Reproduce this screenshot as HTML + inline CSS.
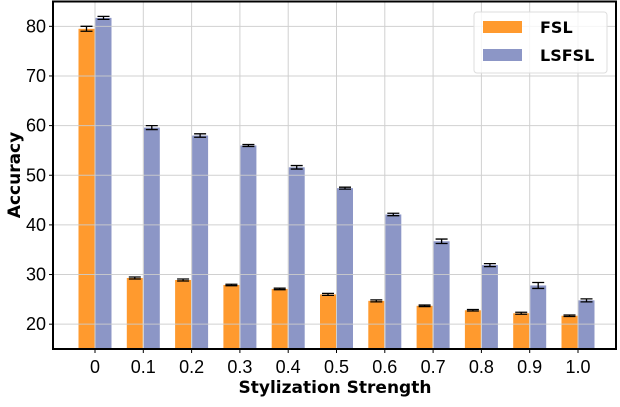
<!DOCTYPE html>
<html><head><meta charset="utf-8"><style>
body{margin:0;background:#fff;}
svg text{font-family:"DejaVu Sans","Liberation Sans",sans-serif;}
svg text.tick{font-family:"Liberation Sans",sans-serif;}
</style></head><body>
<svg id="chart" width="620" height="402" xmlns="http://www.w3.org/2000/svg">
<g id="bars"></g>
<g id="grid" opacity="0.9"></g>
<g id="axes"></g>
<g>
<rect x="474" y="12" width="133" height="61" rx="3" fill="#fff" fill-opacity="0.8" stroke="#ddd" stroke-width="1"/>
<rect x="483" y="21" width="39" height="12" fill="#ff9a2e"/>
<text x="540" y="33" font-size="16" font-weight="bold">FSL</text>
<rect x="483" y="49" width="39" height="12" fill="#8c96c6"/>
<text x="540" y="61" font-size="16" font-weight="bold">LSFSL</text>
</g>
<text x="335" y="393" font-size="17" font-weight="bold" text-anchor="middle">Stylization Strength</text>
<text transform="translate(20,175) rotate(-90)" font-size="17" font-weight="bold" text-anchor="middle">Accuracy</text>
</svg>
<script>
const categories=["0","0.1","0.2","0.3","0.4","0.5","0.6","0.7","0.8","0.9","1.0"];
const fslValues=[79.5,29.3,28.9,27.9,27.1,26.0,24.7,23.7,22.8,22.2,21.7];
const fslErrors=[0.5,0.2,0.2,0.15,0.15,0.2,0.2,0.15,0.15,0.2,0.15];
const lsfslValues=[81.7,59.6,58.0,56.0,51.6,47.4,42.1,36.7,31.9,27.8,24.8];
const lsfslErrors=[0.3,0.4,0.35,0.2,0.35,0.2,0.25,0.45,0.3,0.6,0.3];
const yTicks=[20,30,40,50,60,70,80];
const NS="http://www.w3.org/2000/svg";
const L=53,R=616,T=1.5,B=349,yMin=15,yMax=85;
const x0=95,step=48.3;
function xs(i){return x0+i*step;}
function ys(v){return B-(v-yMin)/(yMax-yMin)*(B-T);}
function mk(tag,attrs,parent){const e=document.createElementNS(NS,tag);for(const k in attrs)e.setAttribute(k,attrs[k]);parent.appendChild(e);return e;}
const grid=document.getElementById('grid'),bars=document.getElementById('bars'),axes=document.getElementById('axes');
yTicks.forEach(t=>{
  const y=ys(t);
  const g=mk('line',{x1:L,x2:R,y1:y,y2:y,stroke:'#cccccc','stroke-width':1},grid);
  
  
  mk('line',{x1:L-4,x2:L,y1:y,y2:y,stroke:'#000','stroke-width':1},axes);
  const tx=mk('text',{x:L-7,y:y+6,'font-size':18,'text-anchor':'end','class':'tick'},axes);
  tx.textContent=t;
  
  
});
categories.forEach((c,i)=>{
  const x=xs(i);
  const g=mk('line',{x1:x,x2:x,y1:T,y2:B,stroke:'#cccccc','stroke-width':1},grid);
  
  
  mk('line',{x1:x,x2:x,y1:B,y2:B+4,stroke:'#000','stroke-width':1},axes);
  const tx=mk('text',{x:x,y:B+24,'font-size':18,'text-anchor':'middle','class':'tick'},axes);
  tx.textContent=c;
  
  
});
function drawSeries(vals,errs,off,color,name){
  vals.forEach((v,i)=>{
    const cx=xs(i)+off,w=16,y=ys(v);
    const r=mk('rect',{x:cx-w/2,y:y,width:w,height:B-y,fill:color},bars);
    
    
    const e=errs[i],y1=ys(v+e),y2=ys(v-e);
    const eb=mk('path',{d:`M${cx},${y1}V${y2}M${cx-6},${y1}H${cx+6}M${cx-6},${y2}H${cx+6}`,stroke:'#000','stroke-width':1.3,fill:'none'},axes);
    
    
  });
}
drawSeries(fslValues,fslErrors,-8.5,'#ff9a2e','fsl');
drawSeries(lsfslValues,lsfslErrors,8.5,'#8c96c6','lsfsl');
const fr=mk('rect',{x:L,y:T,width:R-L,height:B-T,fill:'none',stroke:'#000','stroke-width':2},axes);


</script>
</body></html>
